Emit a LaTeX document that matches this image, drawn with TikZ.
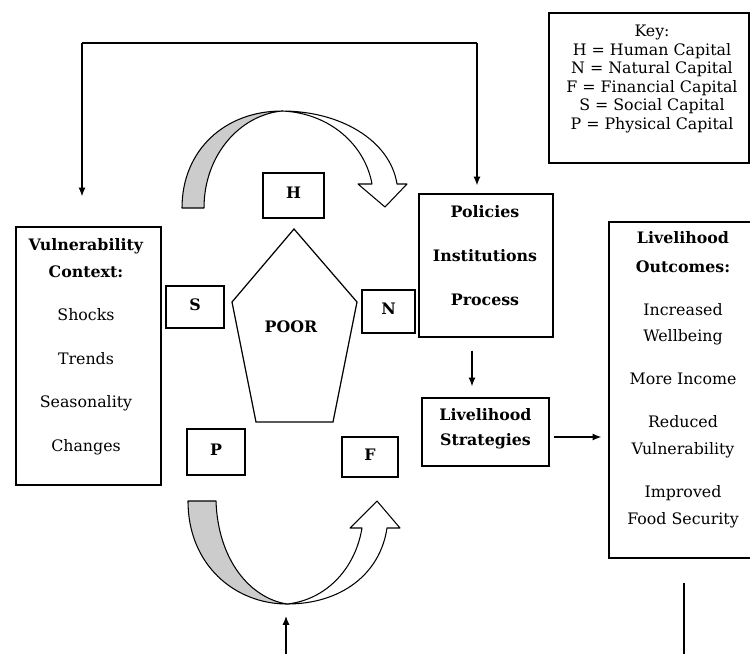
\documentclass[tikz,border=0pt]{standalone}
\usepackage{fontspec}
\setmainfont{DejaVu Serif}
\usetikzlibrary{arrows.meta,calc}
\begin{document}
\begin{tikzpicture}[x=0.02cm,y=-0.02cm,
  box/.style={draw,line width=0.8pt,inner sep=0pt},
  letter/.style={box,font=\fontsize{9}{11}\selectfont\bfseries,text depth=0.3em},
  txt/.style={align=center,inner sep=0pt,anchor=north,font=\fontsize{9}{15.3}\selectfont},
  keytxt/.style={align=center,inner sep=0pt,anchor=north,font=\fontsize{9}{10.5}\selectfont},
  arr/.style={line width=0.7pt,-{Latex[length=5pt,width=4pt]}},
  ln/.style={line width=0.7pt},
  ribbon/.style={draw,line width=0.6pt,line join=round}]
\useasboundingbox (0,0) rectangle (750,654);
\clip (0,0) rectangle (750,654);

% boxes
\node[box,minimum width=2.9cm,minimum height=5.16cm] (vc) at (88.5,356) {};
\node[box,minimum width=2.68cm,minimum height=2.86cm] (pol) at (486,265.5) {};
\node[box,minimum width=2.54cm,minimum height=1.36cm] (ls) at (485.5,432) {};
\node[box,minimum width=3.0cm,minimum height=6.72cm] (lo) at (684,390) {};
\node[box,minimum width=4.0cm,minimum height=3.0cm] (key) at (649,88) {};

% capital boxes
\node[letter,minimum width=1.22cm,minimum height=0.9cm] (H) at (293.5,195.5) {H};
\node[letter,minimum width=1.16cm,minimum height=0.84cm] (S) at (195,307) {S};
\node[letter,minimum width=1.06cm,minimum height=0.86cm] (N) at (388.5,311.5) {N};
\node[letter,minimum width=1.16cm,minimum height=0.92cm] (P) at (216,452) {P};
\node[letter,minimum width=1.12cm,minimum height=0.8cm] (F) at (370,457) {F};

% texts
\node[txt] (vct) at (86,238) {\textbf{Vulnerability}\\\textbf{Context:}\\[9.5pt]Shocks\\[9.5pt]Trends\\[9.5pt]Seasonality\\[9.5pt]Changes};
\node[txt] (polt) at (485,205) {\textbf{Policies}\\[9.7pt]\textbf{Institutions}\\[9.7pt]\textbf{Process}};
\node[txt] (lst) at (485.5,408) {\textbf{Livelihood}\\[-1pt]\textbf{Strategies}};
\node[txt] (lot) at (683,231) {\textbf{Livelihood}\\[1pt]\textbf{Outcomes:}\\[9.2pt]Increased\\[-0.5pt]Wellbeing\\[9.2pt]More Income\\[9.2pt]Reduced\\[0.5pt]Vulnerability\\[9.2pt]Improved\\Food Security};
\node[keytxt] (keyt) at (652,25) {Key:\\H = Human Capital\\N = Natural Capital\\F = Financial Capital\\S = Social Capital\\P = Physical Capital};

% pentagon
\draw[line width=0.7pt,line join=miter] (294,229) -- (357,302) -- (333,422) -- (256,422) -- (232,302) -- cycle;
\node[font=\fontsize{9}{11}\selectfont\bfseries,inner sep=0pt] (poor) at (291,327) {POOR};

% upper ribbon arrow
\draw[ribbon,fill=black!20] (182,208) .. controls (182,150) and (225,111) .. (282,111)
  .. controls (240,115) and (204,155) .. (204,208) -- cycle;
\draw[ribbon,fill=white] (282,111) .. controls (340,111) and (390,140) .. (397,184)
  -- (407,184) -- (385,207) -- (358,184) -- (372,184)
  .. controls (365,145) and (330,113) .. (282,111) -- cycle;

% lower ribbon arrow
\draw[ribbon,fill=black!20] (188,501) .. controls (188,565) and (235,604) .. (287,604)
  .. controls (250,598) and (218,560) .. (216,501) -- cycle;
\draw[ribbon,fill=white] (287,604) .. controls (340,604) and (380,575) .. (387,528)
  -- (400,528) -- (377,501) -- (350,528) -- (362,528)
  .. controls (355,570) and (325,600) .. (287,604) -- cycle;

% connectors
\coordinate (tl) at (82,43);
\coordinate (tr) at (477,43);
\coordinate (pc) at (472,0);
\coordinate (bu) at (286,654);
\coordinate (bt) at (286,616);
\draw[ln] (tl) -- (tr);
\draw[arr,shorten >=0.16cm] (tr) -- (tr |- pol.north);
\draw[arr,shorten >=0.6cm] (tl) -- (tl |- vc.north);
\draw[arr,shorten <=0.26cm,shorten >=0.22cm] (pc |- pol.south) -- (pc |- ls.north);
\draw[arr,shorten <=0.08cm,shorten >=0.14cm] ($(ls.east)+(0,5)$) -- ($(ls.east -| lo.west)+(0,5)$);
\draw[arr] (bu) -- (bt);
\draw[ln] ($(lo.south)+(0,24)$) -- (lo.south |- bu);
\end{tikzpicture}
\end{document}
